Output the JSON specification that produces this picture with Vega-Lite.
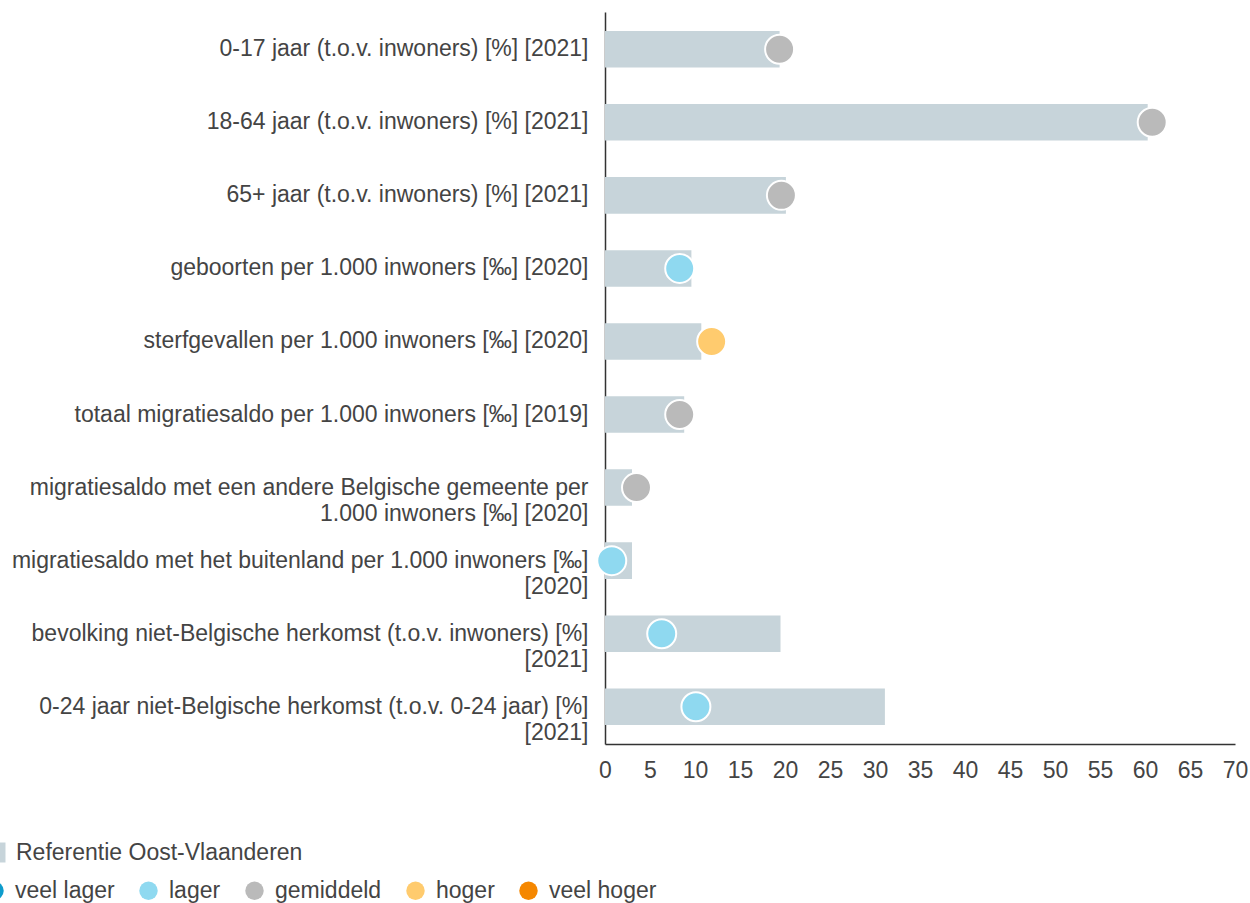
{
  "$schema": "https://vega.github.io/schema/vega-lite/v6.json",
  "width": 630,
  "height": 732,
  "autosize": {"type": "none"},
  "padding": {"left": 605, "top": 12, "right": 15, "bottom": 159},
  "config": {
    "font": "Liberation Sans",
    "view": {"stroke": null},
    "axis": {"grid": false, "ticks": false, "tickSize": 0, "domainColor": "#333333", "domainWidth": 1.5, "labelColor": "#444444", "labelFont": "Liberation Sans", "labelFontSize": 23, "title": null},
    "legend": {"labelFont": "Liberation Sans", "labelFontSize": 23, "labelColor": "#444444", "labelLimit": 0, "padding": 0, "labelOffset": 9, "symbolStrokeWidth": 0, "title": null}
  },
  "data": {
    "values": [
      {"label": "0-17 jaar (t.o.v. inwoners) [%] [2021]", "reeks": "Referentie Oost-Vlaanderen", "ref": 19.4, "waarde": 19.4, "cat": "gemiddeld"},
      {"label": "18-64 jaar (t.o.v. inwoners) [%] [2021]", "reeks": "Referentie Oost-Vlaanderen", "ref": 60.3, "waarde": 60.8, "cat": "gemiddeld"},
      {"label": "65+ jaar (t.o.v. inwoners) [%] [2021]", "reeks": "Referentie Oost-Vlaanderen", "ref": 20.1, "waarde": 19.6, "cat": "gemiddeld"},
      {"label": "geboorten per 1.000 inwoners [‰] [2020]", "reeks": "Referentie Oost-Vlaanderen", "ref": 9.6, "waarde": 8.3, "cat": "lager"},
      {"label": "sterfgevallen per 1.000 inwoners [‰] [2020]", "reeks": "Referentie Oost-Vlaanderen", "ref": 10.7, "waarde": 11.85, "cat": "hoger"},
      {"label": "totaal migratiesaldo per 1.000 inwoners [‰] [2019]", "reeks": "Referentie Oost-Vlaanderen", "ref": 8.8, "waarde": 8.3, "cat": "gemiddeld"},
      {"label": "migratiesaldo met een andere Belgische gemeente per|1.000 inwoners [‰] [2020]", "reeks": "Referentie Oost-Vlaanderen", "ref": 3.0, "waarde": 3.5, "cat": "gemiddeld"},
      {"label": "migratiesaldo met het buitenland per 1.000 inwoners [‰]|[2020]", "reeks": "Referentie Oost-Vlaanderen", "ref": 3.0, "waarde": 0.75, "cat": "lager"},
      {"label": "bevolking niet-Belgische herkomst (t.o.v. inwoners) [%]|[2021]", "reeks": "Referentie Oost-Vlaanderen", "ref": 19.5, "waarde": 6.3, "cat": "lager"},
      {"label": "0-24 jaar niet-Belgische herkomst (t.o.v. 0-24 jaar) [%]|[2021]", "reeks": "Referentie Oost-Vlaanderen", "ref": 31.1, "waarde": 10.1, "cat": "lager"}
    ]
  },
  "encoding": {
    "y": {
      "field": "label",
      "type": "nominal",
      "sort": null,
      "scale": {"paddingInner": 0.5, "paddingOuter": 0.26},
      "axis": {"labelPadding": 17, "labelLimit": 0, "labelExpr": "split(datum.label, '|')", "labelLineHeight": 26}
    }
  },
  "layer": [
    {
      "mark": {"type": "bar"},
      "encoding": {
        "x": {"field": "ref", "type": "quantitative", "scale": {"domain": [0, 70], "nice": false}, "axis": {"values": [0, 5, 10, 15, 20, 25, 30, 35, 40, 45, 50, 55, 60, 65, 70], "labelPadding": 15, "labelFlush": false}},
        "color": {
          "field": "reeks",
          "type": "nominal",
          "scale": {"range": ["#c7d4da"]},
          "legend": {"orient": "none", "legendX": -621, "legendY": 829, "symbolType": "square", "symbolSize": 400}
        }
      }
    },
    {
      "mark": {"type": "circle", "size": 840, "stroke": "white", "strokeWidth": 2, "opacity": 1},
      "encoding": {
        "x": {"field": "waarde", "type": "quantitative"},
        "color": {
          "field": "cat",
          "type": "nominal",
          "scale": {"domain": ["veel lager", "lager", "gemiddeld", "hoger", "veel hoger"], "range": ["#0e9ccc", "#8fd9f0", "#bababa", "#ffcb6e", "#f58700"]},
          "legend": {"orient": "none", "direction": "horizontal", "legendX": -622, "legendY": 867, "symbolType": "circle", "symbolSize": 340, "columnPadding": 22, "symbolStrokeWidth": 0}
        }
      }
    }
  ],
  "resolve": {"scale": {"color": "independent"}, "legend": {"color": "independent"}}
}
